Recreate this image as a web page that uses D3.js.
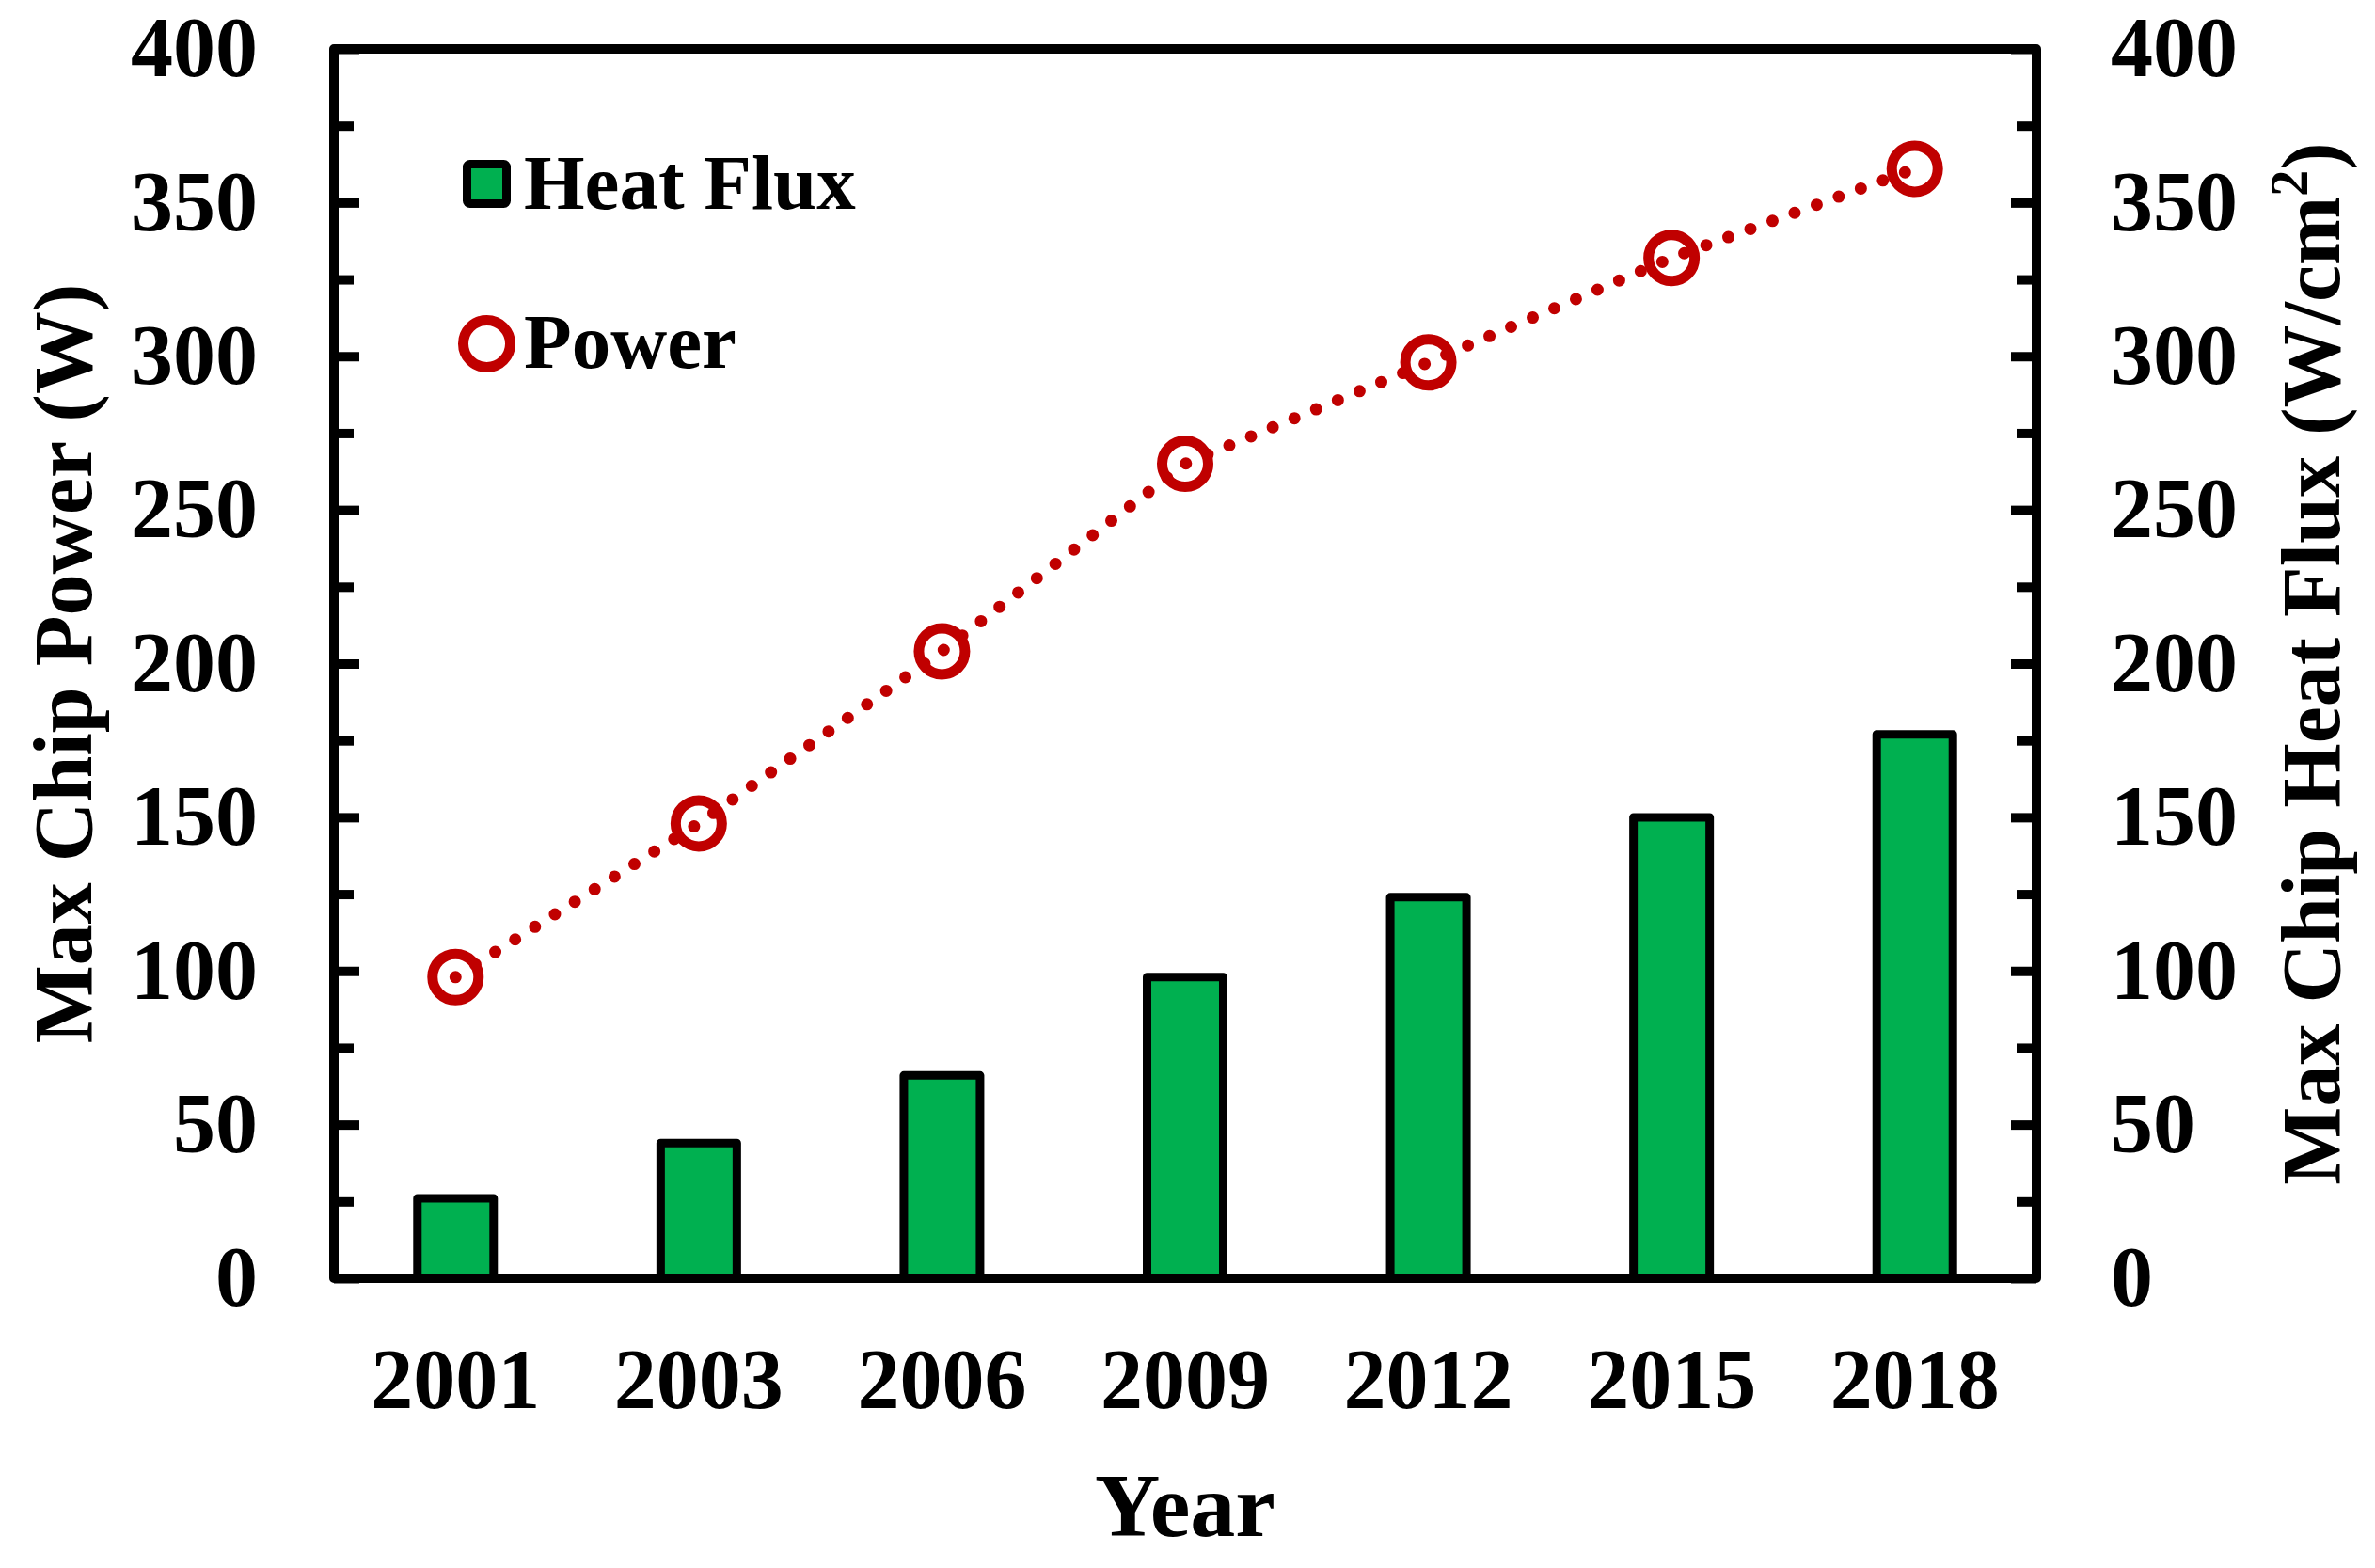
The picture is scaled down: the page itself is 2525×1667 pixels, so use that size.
<!DOCTYPE html>
<html>
<head>
<meta charset="utf-8">
<script src="https://cdn.jsdelivr.net/npm/d3@7/dist/d3.min.js"></script>
<style>
  body { margin: 0; background: #fff; }
  svg text { font-family: "Liberation Serif", "Times New Roman", serif; font-weight: bold; fill: #000; }
</style>
</head>
<body>
<svg id="chart" width="2525" height="1667"></svg>
<script>
// chart data
var years = ["2001", "2003", "2006", "2009", "2012", "2015", "2018"];
var heatFlux = [26, 44, 66, 98, 124, 150, 177];     // W/cm2, right axis
var power = [98, 148, 204, 265, 298, 332, 361];      // W, left axis
var majorTicks = [0, 50, 100, 150, 200, 250, 300, 350, 400];
var minorTicks = [25, 75, 125, 175, 225, 275, 325, 375];

var GREEN = "#00B050", RED = "#C00000";

var svg = d3.select("#chart");
svg.append("rect").attr("width", 2525).attr("height", 1667).attr("fill", "#fff");

// plot box (note: "top" is a reserved window prop, so use other names)
var pLeft = 355, pRight = 2165, pTop = 52, pBottom = 1359;

var x = d3.scaleBand().domain(years).range([pLeft, pRight]).padding(0);
var yPow = d3.scaleLinear().domain([0, 400]).range([pBottom, pTop]);
var yFlux = d3.scaleLinear().domain([0, 400]).range([pBottom, pTop]);

// ---- bars (heat flux) ----
var barW = 81;
svg.append("g").selectAll("rect")
    .data(heatFlux)
    .enter().append("rect")
    .attr("x", function (d, i) { return x(years[i]) + x.bandwidth() / 2 - barW / 2; })
    .attr("y", function (d) { return yFlux(d); })
    .attr("width", barW)
    .attr("height", function (d) { return pBottom - yFlux(d); })
    .attr("fill", GREEN)
    .attr("stroke", "#000")
    .attr("stroke-width", 9)
    .attr("stroke-linejoin", "round");

// ---- axes ----
function styleAxis(g) {
    g.select(".domain").remove();
    g.selectAll(".tick line").attr("stroke", "#000").attr("stroke-width", 10);
    g.selectAll("text").attr("font-size", 90).style("font-family", "'Liberation Serif', 'Times New Roman', serif").style("font-weight", "bold");
}

svg.append("g").attr("transform", "translate(" + pLeft + ",0)")
    .call(d3.axisLeft(yPow).tickValues(majorTicks).tickSizeInner(-27).tickSizeOuter(0).tickPadding(81))
    .call(styleAxis);
svg.append("g").attr("transform", "translate(" + pLeft + ",0)")
    .call(d3.axisLeft(yPow).tickValues(minorTicks).tickSizeInner(-21).tickSizeOuter(0).tickFormat(""))
    .call(styleAxis);

svg.append("g").attr("transform", "translate(" + pRight + ",0)")
    .call(d3.axisRight(yFlux).tickValues(majorTicks).tickSizeInner(-27).tickSizeOuter(0).tickPadding(79))
    .call(styleAxis);
svg.append("g").attr("transform", "translate(" + pRight + ",0)")
    .call(d3.axisRight(yFlux).tickValues(minorTicks).tickSizeInner(-21).tickSizeOuter(0).tickFormat(""))
    .call(styleAxis);

var xAxis = svg.append("g").attr("transform", "translate(0," + pBottom + ")")
    .call(d3.axisBottom(x).tickSize(0).tickPadding(74))
    .call(styleAxis);
xAxis.selectAll("text").attr("dy", "0.71em");

// frame
svg.append("rect")
    .attr("x", pLeft).attr("y", pTop)
    .attr("width", pRight - pLeft).attr("height", pBottom - pTop)
    .attr("fill", "none").attr("stroke", "#000").attr("stroke-width", 10)
    .attr("stroke-linejoin", "round");

// ---- power line + markers ----
var line = d3.line()
    .x(function (d, i) { return x(years[i]) + x.bandwidth() / 2; })
    .y(function (d) { return yPow(d); });

svg.append("path")
    .datum(power)
    .attr("d", line)
    .attr("fill", "none")
    .attr("stroke", RED)
    .attr("stroke-width", 13)
    .attr("stroke-linecap", "round")
    .attr("stroke-dasharray", "0 25");

svg.append("g").selectAll("circle")
    .data(power)
    .enter().append("circle")
    .attr("cx", function (d, i) { return x(years[i]) + x.bandwidth() / 2; })
    .attr("cy", function (d) { return yPow(d); })
    .attr("r", 24.5)
    .attr("fill", "none")
    .attr("stroke", RED)
    .attr("stroke-width", 11);

// ---- titles ----
svg.append("text")
    .attr("x", (pLeft + pRight) / 2).attr("y", 1633)
    .attr("text-anchor", "middle").attr("font-size", 96)
    .text("Year");

svg.append("text")
    .attr("transform", "translate(97," + (pTop + pBottom) / 2 + ") rotate(-90)")
    .attr("text-anchor", "middle").attr("font-size", 88)
    .text("Max Chip Power (W)");

var rt = svg.append("text")
    .attr("transform", "translate(2487," + (pTop + pBottom) / 2 + ") rotate(-90)")
    .attr("text-anchor", "middle").attr("font-size", 88);
rt.append("tspan").text("Max Chip Heat Flux (W/cm");
rt.append("tspan").attr("font-size", 56).attr("dy", -34).text("2");
rt.append("tspan").attr("dy", 34).text(")");

// ---- legend ----
var legend = svg.append("g");
legend.append("rect")
    .attr("x", 496.5).attr("y", 174.5).attr("width", 42).attr("height", 42)
    .attr("rx", 3)
    .attr("fill", GREEN).attr("stroke", "#000").attr("stroke-width", 9);
legend.append("text").attr("x", 557).attr("y", 222).attr("font-size", 83).text("Heat Flux");

legend.append("circle")
    .attr("cx", 517.5).attr("cy", 365.5).attr("r", 25)
    .attr("fill", "none").attr("stroke", RED).attr("stroke-width", 11);
legend.append("text").attr("x", 557).attr("y", 391).attr("font-size", 83).text("Power");
</script>
</body>
</html>
